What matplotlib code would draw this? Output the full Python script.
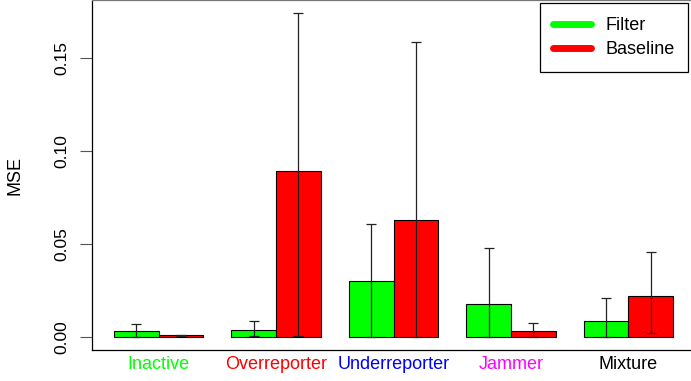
import numpy as np
import matplotlib.pyplot as plt
import matplotlib as mpl

mpl.rcParams['font.family'] = ['Liberation Sans', 'DejaVu Sans']

# --- Data ---
categories = ["Inactive", "Overreporter", "Underreporter", "Jammer", "Mixture"]
label_colors = ["#00FF00", "#FF0000", "#0000FF", "#FF00FF", "#000000"]

filter_mse = [0.0035, 0.0041, 0.0302, 0.0179, 0.0090]
filter_lo = [0.0000, 0.0009, 0.0000, 0.0000, 0.0002]
filter_hi = [0.0074, 0.0090, 0.0609, 0.0478, 0.0213]

baseline_mse = [0.0011, 0.0891, 0.0628, 0.0036, 0.0224]
baseline_lo = [0.0009, 0.0009, 0.0000, 0.0000, 0.0025]
baseline_hi = [0.0013, 0.1744, 0.1584, 0.0075, 0.0461]

yticks = [0.00, 0.05, 0.10, 0.15]
ytick_labels = ["0.00", "0.05", "0.10", "0.15"]

green = "#00FF00"
red = "#FF0000"

# --- Figure ---
fig = plt.figure(figsize=(6.91, 3.81), dpi=100)
ax = fig.add_axes([91.7 / 691, 31 / 381, 1 - 91.7 / 691, 349.5 / 381])

x = np.arange(len(categories))
w = 0.381

ax.bar(x - w / 2, filter_mse, width=w, color=green, edgecolor="black",
       linewidth=0.8, zorder=2)
ax.bar(x + w / 2, baseline_mse, width=w, color=red, edgecolor="black",
       linewidth=0.8, zorder=2)

for xs, mid, lo, hi in [(x - w / 2, filter_mse, filter_lo, filter_hi),
                        (x + w / 2, baseline_mse, baseline_lo, baseline_hi)]:
    mid = np.array(mid)
    err = np.vstack([mid - np.array(lo), np.array(hi) - mid])
    ax.errorbar(xs, mid, yerr=err, fmt="none", ecolor="#222222",
                elinewidth=0.9, capsize=3.7, capthick=0.9, zorder=3)

ax.set_xlim(-0.571, 4.534)
ax.set_ylim(-0.00681, 0.18096)

ax.set_yticks(yticks)
ax.set_yticklabels(ytick_labels, rotation=90, va="center", fontsize=12.5)
ax.tick_params(axis="y", length=8.4, width=0.8, color="#555555", pad=8)

ax.set_xticks(x)
ax.set_xticklabels(categories, fontsize=13)
ax.tick_params(axis="x", length=0, pad=4)
for lbl, c in zip(ax.get_xticklabels(), label_colors):
    lbl.set_color(c)

ax.set_ylabel("MSE", fontsize=13, labelpad=22)

for side in ["left", "bottom", "top"]:
    ax.spines[side].set_linewidth(0.9)
ax.spines["top"].set_color("#777777")
ax.spines["right"].set_visible(False)

# legend drawn with thick lines like R's lwd legend
handles = [plt.Line2D([], [], color=green, linewidth=5, solid_capstyle="round"),
           plt.Line2D([], [], color=red, linewidth=5, solid_capstyle="round")]
leg = ax.legend(handles, ["Filter", "Baseline"], loc="upper right",
                bbox_to_anchor=(688.3 / 691, 1 - 3.3 / 381),
                bbox_transform=fig.transFigure, fontsize=13,
                fancybox=False, framealpha=1, edgecolor="black",
                handlelength=2.1, handletextpad=0.8, labelspacing=0.4,
                borderpad=0.75, borderaxespad=0)
leg.get_frame().set_linewidth(0.9)

fig.savefig("out.png", dpi=100)
